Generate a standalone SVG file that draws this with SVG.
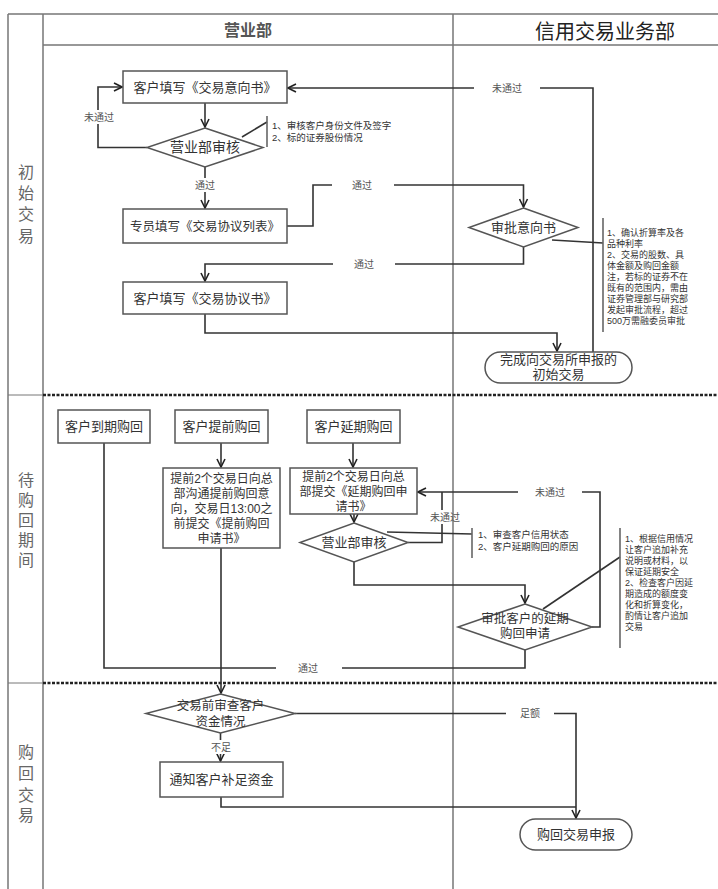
<svg xmlns="http://www.w3.org/2000/svg" width="718" height="889" viewBox="0 0 718 889">
<defs>
<style>
.frame{stroke:#777;stroke-width:1.5;fill:none}
.thin{stroke:#777;stroke-width:1;fill:none}
.dash{stroke:#222;stroke-width:2.5;stroke-dasharray:3 1.5;fill:none}
.box{fill:#fff;stroke:#555;stroke-width:1.5}
.ln{fill:none;stroke:#333;stroke-width:1.6}
.br{fill:none;stroke:#666;stroke-width:1.6}
.t{font-family:"Liberation Sans","Noto Sans CJK SC",sans-serif;fill:#333;text-anchor:middle;font-size:13px}
.s{font-size:12px}
.note{font-family:"Liberation Sans","Noto Sans CJK SC",sans-serif;fill:#333;font-size:9px}
.lab{font-family:"Liberation Sans","Noto Sans CJK SC",sans-serif;fill:#555;font-size:10px;text-anchor:middle}
.sec{font-family:"Liberation Sans","Noto Sans CJK SC",sans-serif;fill:#666;font-size:16px;text-anchor:middle}
</style>
<marker id="arr" viewBox="0 0 10 10" refX="9" refY="5" markerWidth="10" markerHeight="10" markerUnits="userSpaceOnUse" orient="auto">
<path d="M1,1 L9,5 L1,9" fill="none" stroke="#222" stroke-width="1.6"/>
</marker>
</defs>
<rect width="718" height="889" fill="#fff"/>
<g id="frame">
<path class="frame" d="M8,14 H718 M43,45 H718 M8,14 V889 M43,14 V889 M453,14 V889"/>
<path class="thin" d="M8,395 H43 M8,683 H43"/>
<path class="dash" d="M43,395 H718 M43,683 H718"/>
<text x="248" y="36" class="t" style="font-size:16px;fill:#555;font-weight:bold">营业部</text>
<text x="605" y="39" class="t" style="font-size:20px;fill:#222">信用交易业务部</text>
<text class="sec"><tspan x="26" y="178">初</tspan><tspan x="26" y="199">始</tspan><tspan x="26" y="220">交</tspan><tspan x="26" y="242">易</tspan></text>
<text class="sec"><tspan x="26" y="486">待</tspan><tspan x="26" y="506">购</tspan><tspan x="26" y="526">回</tspan><tspan x="26" y="546">期</tspan><tspan x="26" y="566">间</tspan></text>
<text class="sec"><tspan x="26" y="758">购</tspan><tspan x="26" y="779">回</tspan><tspan x="26" y="801">交</tspan><tspan x="26" y="821">易</tspan></text>
</g>
<g id="connectors">
<path class="ln" d="M205,103 V127" marker-end="url(#arr)"/>
<path class="ln" d="M147,147.5 H98 V87 H122" marker-end="url(#arr)"/>
<path class="ln" d="M205,167 V208" marker-end="url(#arr)"/>
<path class="ln" d="M287,226 H313 V185 H523.5 V207" marker-end="url(#arr)"/>
<path class="ln" d="M523.5,247 V264 H205 V281" marker-end="url(#arr)"/>
<path class="ln" d="M205,314 V333 H557 V351" marker-end="url(#arr)"/>
<path class="ln" d="M593,352 V88 H288" marker-end="url(#arr)"/>
<path class="ln" d="M242,137 L267,122"/>
<path class="br" d="M267,116 V147"/>
<path class="ln" d="M552,240 L603,243"/>
<path class="br" d="M603,218 V332"/>
<path class="ln" d="M221,443 V467" marker-end="url(#arr)"/>
<path class="ln" d="M353,443 V467" marker-end="url(#arr)"/>
<path class="ln" d="M354,514 V522" marker-end="url(#arr)"/>
<path class="ln" d="M408,542.5 H442 V492"/>
<path class="ln" d="M592,627 H600 V492 H418" marker-end="url(#arr)"/>
<path class="ln" d="M387,532 L472,534"/>
<path class="br" d="M472,528 V558"/>
<path class="ln" d="M354,562 V585 H525 V603" marker-end="url(#arr)"/>
<path class="ln" d="M543,609 L620,557"/>
<path class="br" d="M620,528 V648"/>
<path class="ln" d="M525,650 V668 H104 V443"/>
<path class="ln" d="M221,548 V693" marker-end="url(#arr)"/>
<path class="ln" d="M220.5,733 V761" marker-end="url(#arr)"/>
<path class="ln" d="M295,713.5 H576 V818" marker-end="url(#arr)"/>
<path class="ln" d="M221,797 V807 H576"/>
<g id="labels">
<rect x="84" y="110" width="30" height="14" fill="#fff"/><text x="99" y="121" class="lab">未通过</text>
<rect x="193" y="178" width="24" height="14" fill="#fff"/><text x="205" y="189" class="lab">通过</text>
<rect x="332" y="178" width="62" height="14" fill="#fff"/><text x="362" y="189" class="lab">通过</text>
<rect x="333" y="257" width="62" height="14" fill="#fff"/><text x="364" y="268" class="lab">通过</text>
<rect x="474" y="81" width="66" height="14" fill="#fff"/><text x="507" y="92" class="lab">未通过</text>
<rect x="436" y="510" width="12" height="14" fill="#fff"/><text x="445" y="521" class="lab">未通过</text>
<rect x="518" y="485" width="64" height="14" fill="#fff"/><text x="550" y="496" class="lab">未通过</text>
<rect x="276" y="661" width="66" height="14" fill="#fff"/><text x="308" y="672" class="lab">通过</text>
<rect x="208" y="740" width="26" height="14" fill="#fff"/><text x="221" y="751" class="lab">不足</text>
<rect x="506" y="706" width="48" height="14" fill="#fff"/><text x="530" y="717" class="lab">足额</text>
</g>
</g>
<g id="n1"><rect class="box" x="123" y="71" width="164" height="32"/><text x="205" y="92" class="t">客户填写《交易意向书》</text></g>
<g id="d1"><polygon class="box" points="205,128 263,147.5 205,167 147,147.5"/><text x="205" y="152" class="t" style="font-size:14px">营业部审核</text></g>
<g id="note1"><text class="note" style="font-size:9.5px"><tspan x="272" y="129">1、审核客户身份文件及签字</tspan><tspan x="272" y="141">2、标的证券股份情况</tspan></text></g>
<g id="n2"><rect class="box" x="123" y="209" width="164" height="34"/><text x="205" y="231" class="t" style="font-size:12.5px">专员填写《交易协议列表》</text></g>
<g id="d2"><polygon class="box" points="523.5,208 578,227.5 523.5,247 469,227.5"/><text x="523.5" y="232" class="t">审批意向书</text></g>
<g id="note2"><text class="note"><tspan x="607" y="236">1、确认折算率及各</tspan><tspan x="607" y="247">品种利率</tspan><tspan x="607" y="258">2、交易的股数、具</tspan><tspan x="607" y="269">体金额及购回金额</tspan><tspan x="607" y="280">注，若标的证券不在</tspan><tspan x="607" y="291">既有的范围内，需由</tspan><tspan x="607" y="302">证券管理部与研究部</tspan><tspan x="607" y="313">发起审批流程，超过</tspan><tspan x="607" y="324">500万需融委员审批</tspan></text></g>
<g id="n3"><rect class="box" x="123" y="282" width="164" height="32"/><text x="205" y="303" class="t">客户填写《交易协议书》</text></g>
<g id="t1"><rect class="box" x="485" y="352" width="147" height="31" rx="15.5"/><text class="t"><tspan x="558.5" y="364">完成向交易所申报的</tspan><tspan x="558.5" y="379">初始交易</tspan></text></g>
<g id="n4"><rect class="box" x="58" y="410" width="92" height="33"/><text x="104" y="431" class="t">客户到期购回</text></g>
<g id="n5"><rect class="box" x="175" y="410" width="93" height="33"/><text x="221.5" y="431" class="t">客户提前购回</text></g>
<g id="n6"><rect class="box" x="307" y="410" width="93" height="33"/><text x="353.5" y="431" class="t">客户延期购回</text></g>
<g id="n7"><rect class="box" x="163" y="468" width="117" height="80"/><text class="t s"><tspan x="221.5" y="483">提前2个交易日向总</tspan><tspan x="221.5" y="498">部沟通提前购回意</tspan><tspan x="221.5" y="513">向，交易日13:00之</tspan><tspan x="221.5" y="528">前提交《提前购回</tspan><tspan x="221.5" y="543">申请书》</tspan></text></g>
<g id="n8"><rect class="box" x="290" y="468" width="127" height="46"/><text class="t s"><tspan x="353.5" y="481">提前2个交易日向总</tspan><tspan x="353.5" y="496">部提交《延期购回申</tspan><tspan x="353.5" y="511">请书》</tspan></text></g>
<g id="d3"><polygon class="box" points="354,523 408,542.5 354,562 300,542.5"/><text x="354" y="547" class="t">营业部审核</text></g>
<g id="note4"><text class="note" style="font-size:9.5px"><tspan x="478" y="538">1、审查客户信用状态</tspan><tspan x="478" y="550">2、客户延期购回的原因</tspan></text></g>
<g id="d4"><polygon class="box" points="525,604 592,627 525,650 458,627"/><text class="t" style="font-size:12.5px"><tspan x="525" y="623">审批客户的延期</tspan><tspan x="525" y="638">购回申请</tspan></text></g>
<g id="note3"><text class="note"><tspan x="625" y="542">1、根据信用情况</tspan><tspan x="625" y="553">让客户追加补充</tspan><tspan x="625" y="564">说明或材料，以</tspan><tspan x="625" y="575">保证延期安全</tspan><tspan x="625" y="586">2、检查客户因延</tspan><tspan x="625" y="597">期造成的额度变</tspan><tspan x="625" y="608">化和折算变化，</tspan><tspan x="625" y="619">酌情让客户追加</tspan><tspan x="625" y="630">交易</tspan></text></g>
<g id="d5"><polygon class="box" points="220.5,694 295,713.5 220.5,733 146,713.5"/><text class="t" style="font-size:12.5px"><tspan x="220.5" y="710">交易前审查客户</tspan><tspan x="220.5" y="726">资金情况</tspan></text></g>
<g id="n9"><rect class="box" x="160" y="762" width="123" height="35"/><text x="221.5" y="784" class="t">通知客户补足资金</text></g>
<g id="t2"><rect class="box" x="520" y="819" width="112" height="31" rx="15.5"/><text x="576" y="839" class="t">购回交易申报</text></g>
</svg>
